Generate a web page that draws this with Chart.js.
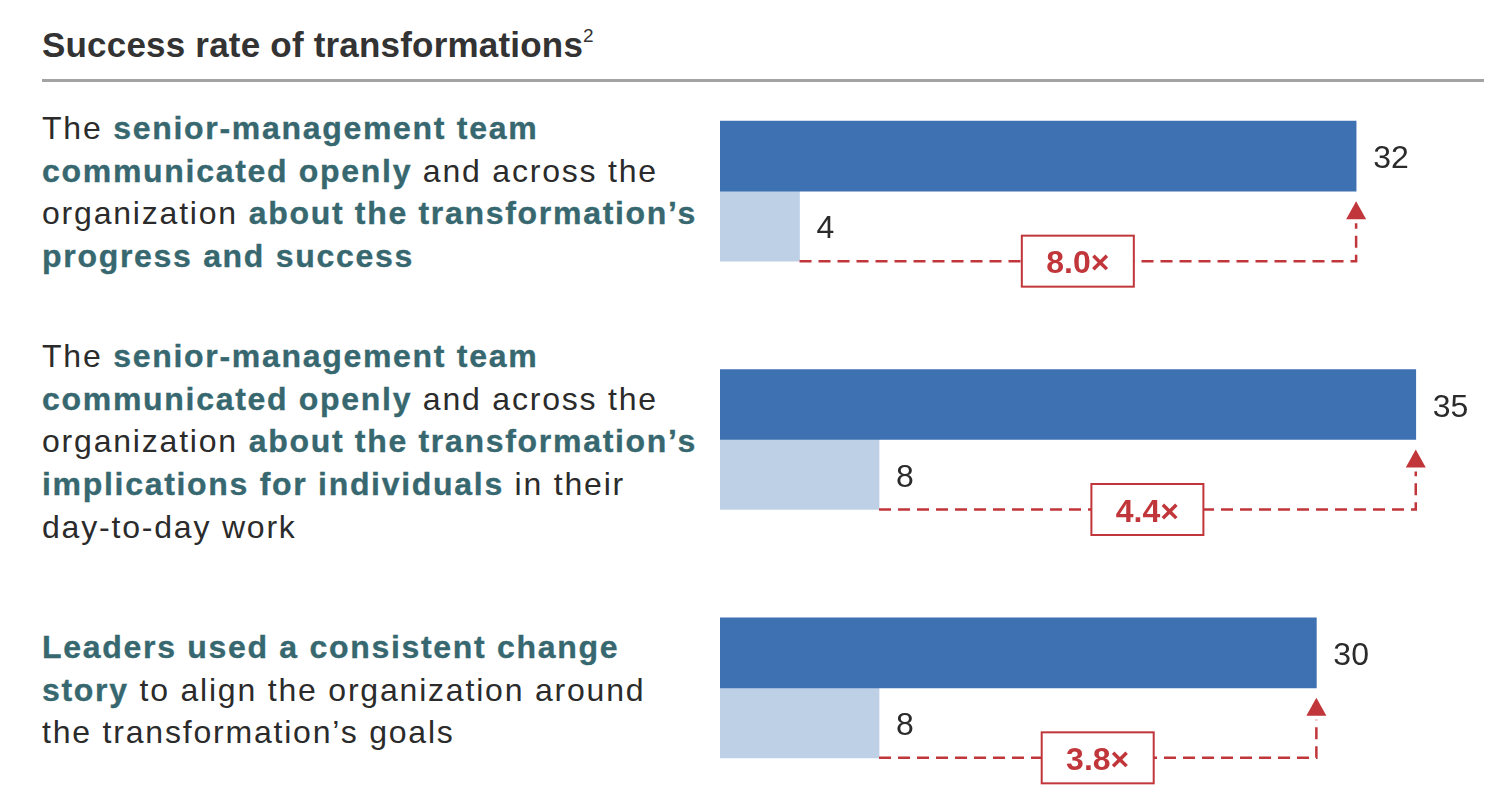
<!DOCTYPE html>
<html>
<head>
<meta charset="utf-8">
<title>Success rate of transformations</title>
<script src="https://cdn.jsdelivr.net/npm/chart.js@4.4.1/dist/chart.umd.min.js"></script>
<style>
  html, body { margin: 0; padding: 0; background: #fff; }
  #wrap { position: relative; width: 1512px; height: 812px; overflow: hidden;
          font-family: "Liberation Sans", Arial, sans-serif; color: #2b2b2b; }
  #chart { position: absolute; left: 0; top: 0; }
  h1 { position: absolute; left: 42px; top: 25px; margin: 0; font-size: 35px; line-height: 40px;
       letter-spacing: 0.2px; font-weight: bold; color: #333; white-space: nowrap; }
  h1 sup { font-size: 19px; font-weight: normal; vertical-align: 15px; line-height: 0; letter-spacing: 0; }
  .rule { position: absolute; left: 42px; top: 79px; width: 1442px; height: 3px; background: #a3a3a3; }
  .item { position: absolute; left: 42px; width: 680px; font-size: 32px; line-height: 42.7px;
          letter-spacing: 1.8px; white-space: nowrap; }
  .item b { color: #376870; letter-spacing: 1.7px; -webkit-text-stroke: 0.35px #376870; }
</style>
</head>
<body>
<div id="wrap">
  <h1>Success rate of transformations<sup>2</sup></h1>
  <div class="rule"></div>
  <div class="item" style="top:107px">The <b>senior-management team<br>communicated openly</b> and across the<br>organization <b>about the transformation’s<br>progress and success</b></div>
  <div class="item" style="top:335px">The <b>senior-management team<br>communicated openly</b> and across the<br>organization <b>about the transformation’s<br>implications for individuals</b> in their<br>day-to-day work</div>
  <div class="item" style="top:626px"><b>Leaders used a consistent change<br>story</b> to align the organization around<br>the transformation’s goals</div>
  <canvas id="chart" width="1512" height="812"></canvas>
</div>
<script>
const categories = ["Progress and success", "Implications for individuals", "Consistent change story"];
const withPractice = [32, 35, 30];
const withoutPractice = [4, 8, 8];
const multipliers = ["8.0×", "4.4×", "3.8×"];

const red = "#c0363a";
const textFont = "'Liberation Sans', Arial, sans-serif";

// value labels, dashed arrows and the multiplier boxes
const annotate = {
  id: "annotate",
  afterDatasetsDraw(chart) {
    const ctx = chart.ctx;
    const hi = chart.getDatasetMeta(0).data;
    const lo = chart.getDatasetMeta(1).data;
    ctx.save();
    hi.forEach((bar, i) => {
      const low = lo[i];
      ctx.font = "32px " + textFont;
      ctx.fillStyle = "#2b2b2b";
      ctx.textAlign = "left";
      ctx.textBaseline = "alphabetic";
      ctx.fillText(String(withPractice[i]), bar.x + 17, bar.y + 12);
      ctx.fillText(String(withoutPractice[i]), low.x + 17, low.y + 12);

      const y = low.y + low.height / 2;
      const tipY = bar.y + bar.height / 2 + 10;
      ctx.strokeStyle = red;
      ctx.lineWidth = 2.5;
      ctx.setLineDash([12, 7]);
      ctx.beginPath();
      ctx.moveTo(low.x, y);
      ctx.lineTo(bar.x, y);
      ctx.lineTo(bar.x, tipY + 22);
      ctx.stroke();
      ctx.setLineDash([]);

      ctx.fillStyle = red;
      ctx.beginPath();
      ctx.moveTo(bar.x, tipY);
      ctx.lineTo(bar.x - 10, tipY + 18);
      ctx.lineTo(bar.x + 10, tipY + 18);
      ctx.closePath();
      ctx.fill();

      const cx = (low.x + bar.x) / 2;
      const cy = y;
      const w = 112, h = 51;
      ctx.lineWidth = 2;
      ctx.fillStyle = "#fff";
      ctx.fillRect(cx - w / 2, cy - h / 2, w, h);
      ctx.strokeRect(cx - w / 2, cy - h / 2, w, h);
      ctx.fillStyle = red;
      ctx.font = "bold 32px " + textFont;
      ctx.textAlign = "center";
      ctx.fillText(multipliers[i], cx, cy + 12);
    });
    ctx.restore();
  }
};

new Chart(document.getElementById("chart"), {
  type: "bar",
  data: {
    labels: categories,
    datasets: [
      { label: "Practice in place", data: withPractice, backgroundColor: "#3e71b2", borderWidth: 0, barThickness: 70 },
      { label: "Practice not in place", data: withoutPractice, backgroundColor: "#bed0e6", borderWidth: 0, barThickness: 70 }
    ]
  },
  options: {
    indexAxis: "y",
    responsive: false,
    animation: false,
    layout: { padding: { left: 720, top: 67, right: 36.6, bottom: 0 } },
    plugins: { legend: { display: false }, tooltip: { enabled: false } },
    scales: {
      x: { display: false, min: 0, max: 38 },
      y: { display: false }
    }
  },
  plugins: [annotate]
});
</script>
</body>
</html>
